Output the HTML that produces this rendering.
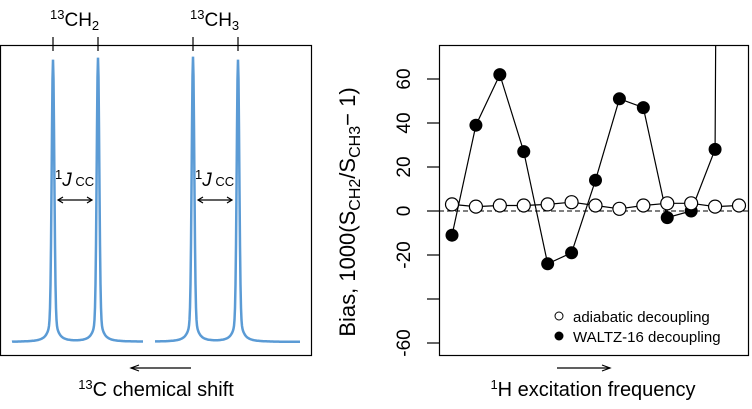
<!DOCTYPE html>
<html><head><meta charset="utf-8"><style>
body{margin:0;background:#fff;width:752px;height:404px;overflow:hidden}
svg{font-family:"Liberation Sans",sans-serif}
</style></head><body>
<svg id="c" width="752" height="404" viewBox="0 0 752 404">
<g id="left">
<rect x="0.5" y="45.5" width="311" height="310" fill="none" stroke="#000" stroke-width="1.2"/>
<g id="specG"></g>
<g stroke="#000" stroke-width="1.2">
<line x1="53" y1="37" x2="53" y2="51"/><line x1="98" y1="37" x2="98" y2="51"/>
<line x1="193" y1="37" x2="193" y2="51"/><line x1="238" y1="37" x2="238" y2="51"/>
</g>
<text x="50" y="26" font-size="19"><tspan font-size="13" dy="-7">13</tspan><tspan dy="7">CH</tspan><tspan font-size="13" dy="4">2</tspan></text>
<text x="190" y="26" font-size="19"><tspan font-size="13" dy="-7">13</tspan><tspan dy="7">CH</tspan><tspan font-size="13" dy="4">3</tspan></text>
<text x="55" y="186" font-size="19"><tspan font-size="13" dy="-7">1</tspan><tspan dy="7" font-style="italic">J</tspan><tspan font-size="13"> CC</tspan></text>
<text x="195" y="186" font-size="19"><tspan font-size="13" dy="-7">1</tspan><tspan dy="7" font-style="italic">J</tspan><tspan font-size="13"> CC</tspan></text>
<g stroke="#000" stroke-width="1.2" fill="none">
<line x1="58" y1="200" x2="92" y2="200"/><path d="M63,197 L58,200 L63,203 M87,197 L92,200 L87,203"/>
<line x1="198" y1="200" x2="232" y2="200"/><path d="M203,197 L198,200 L203,203 M227,197 L232,200 L227,203"/>
</g>
<g stroke="#000" stroke-width="1.2" fill="none">
<line x1="131" y1="368" x2="191" y2="368"/><path d="M139,365 L131,368 L139,371"/>
</g>
<text x="156" y="396" font-size="20" text-anchor="middle"><tspan font-size="13" dy="-7">13</tspan><tspan dy="7">C chemical shift</tspan></text>
</g>
<g id="right">
<rect x="439.5" y="45.5" width="309" height="310" fill="none" stroke="#000" stroke-width="1.2"/>
<g id="yaxG"></g>
<line x1="439" y1="211" x2="748" y2="211" stroke="#000" stroke-dasharray="5,3" stroke-width="1"/>
<clipPath id="clipR"><rect x="440" y="46" width="308" height="309"/></clipPath>
<g id="seriesG" clip-path="url(#clipR)"></g>
<text transform="translate(355,212) rotate(-90)" font-size="22" text-anchor="middle">Bias, 1000(S<tspan font-size="16" dy="5">CH2</tspan><tspan dy="-5">/</tspan>S<tspan font-size="16" dy="5">CH3</tspan><tspan dy="-5">− 1)</tspan></text>
<circle cx="559" cy="316" r="4" fill="#fff" stroke="#000"/>
<text x="573" y="322" font-size="15">adiabatic decoupling</text>
<circle cx="559" cy="336" r="4.5" fill="#000"/>
<text x="573" y="342" font-size="15">WALTZ-16 decoupling</text>
<g stroke="#000" stroke-width="1.2" fill="none">
<line x1="557" y1="368" x2="610" y2="368"/><path d="M602,365 L610,368 L602,371"/>
</g>
<text x="593" y="396" font-size="20" text-anchor="middle"><tspan font-size="13" dy="-7">1</tspan><tspan dy="7">H excitation frequency</tspan></text>
</g>
</svg>
<script>
const NS="http://www.w3.org/2000/svg";
// spectrum data
const peakPos=[53,98,193,238];
const peakHeight=[282,284,285,282];
const segments=[[12,143],[155,300]];
// bias chart data
const yTicks=[-60,-40,-20,0,20,40,60];
const yTickLabels=["-60","","-20","0","20","40","60"];
const adiabatic=[3,2,2.5,2.5,3,4,2.5,1,2.5,3.5,3.5,2,2.5];
const waltz=[-11,39,62,27,-24,-19,14,51,47,-3,0,28,2000];
function yS(v){return 211-v*2.2;}
function xS(i){return 452+i*(739-452)/12;}
function mk(tag,attrs,parent){const e=document.createElementNS(NS,tag);for(const k in attrs)e.setAttribute(k,attrs[k]);parent.appendChild(e);return e;}
const specG=document.getElementById('specG');
segments.forEach(function(s){
  let d="";
  for(let x=s[0];x<=s[1];x+=0.5){
    let v=0;
    peakPos.forEach(function(p,i){const dx=x-p;v+=peakHeight[i]*(0.9*Math.exp(-((dx/1.8)*(dx/1.8)))+0.1/(1+(dx/4)*(dx/4)));});
    d+=(x===s[0]?"M":"L")+x+","+(342-Math.min(v,290)).toFixed(1);
  }
  const p=mk('path',{d:d,fill:"none",stroke:"#5b9bd5","stroke-width":2.5},specG);
  
  
});
const yaxG=document.getElementById('yaxG');
yTicks.forEach(function(t,i){
  const l=mk('line',{x1:427,x2:439,y1:yS(t),y2:yS(t),stroke:"#000","stroke-width":1.2},yaxG);
  
  
  if(yTickLabels[i]){
    const tx=mk('text',{transform:"translate(410,"+yS(t)+") rotate(-90)","font-size":19,"text-anchor":"middle"},yaxG);
    tx.textContent=yTickLabels[i];
    
    
  }
});
const seriesG=document.getElementById('seriesG');
function line(arr,name){
  const p=mk('path',{d:arr.map(function(v,i){return (i?"L":"M")+xS(i)+","+yS(v);}).join(""),fill:"none",stroke:"#000","stroke-width":1.2},seriesG);
  
  
}
line(waltz,'waltz-line');
line(adiabatic,'adiabatic-line');
waltz.forEach(function(v,i){const c=mk('circle',{cx:xS(i),cy:yS(v),r:6.5,fill:"#000"},seriesG);
  
  });
adiabatic.forEach(function(v,i){const c=mk('circle',{cx:xS(i),cy:yS(v),r:6.5,fill:"#fff",stroke:"#000","stroke-width":1.2},seriesG);
  
  });
</script>
</body></html>
